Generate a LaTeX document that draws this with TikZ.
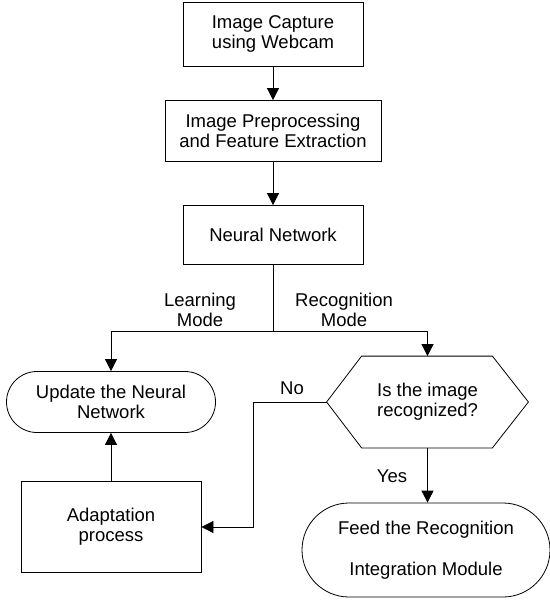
\documentclass[tikz,border=0pt]{standalone}
\usepackage{fontspec}
\setmainfont{Liberation Sans}
\usetikzlibrary{arrows.meta,shapes.misc}

\begin{document}
\begin{tikzpicture}[x=1pt,y=-1pt,line width=0.8pt,
    font=\fontsize{18.5}{20}\selectfont,
    box/.style={draw,rectangle,align=center,inner sep=0pt},
    term/.style={draw,rounded rectangle,align=center,inner sep=0pt},
    arr/.style={-{Triangle[length=12pt,width=12pt]}}]
  \useasboundingbox (0,0) rectangle (549,601);
  % main chain
  \node[box,minimum width=180pt,minimum height=64pt] (cap) at (273,34) {Image Capture\\using Webcam};
  \node[box,minimum width=216pt,minimum height=61pt] (prep) at (273,131) {Image Preprocessing\\and Feature Extraction};
  \node[box,minimum width=180pt,minimum height=59pt] (nn) at (273,235) {Neural Network};
  \coordinate (split) at (273,331);
  % learning side
  \node[term,minimum width=209pt,minimum height=61pt] (upd) at (111,402) {Update the Neural\\Network};
  \node[box,minimum width=180pt,minimum height=91pt] (adapt) at (111,527) {Adaptation\\process};
  % recognition side
  \node[align=center,minimum width=201pt,minimum height=91pt,inner sep=0pt] (chk) at (427.5,402) {Is the image\\recognized?};
  \draw ([xshift=35pt]chk.north west) -- ([xshift=-36pt]chk.north east) -- (chk.east)
    -- ([xshift=-36pt]chk.south east) -- ([xshift=35pt]chk.south west) -- (chk.west) -- cycle;
  \node[term,minimum width=248pt,minimum height=94pt] (feed) at (426,550)
    {Feed the Recognition\\[21pt]Integration Module};
  % labels
  \node[align=center] (lrn) at (200,310) {Learning\\Mode};
  \node[align=center] (rec) at (344,310) {Recognition\\Mode};
  \node (no) at (292,388) {No};
  \node (yes) at (392,476) {Yes};
  % connectors
  \draw[arr] (cap) -- (prep);
  \draw[arr] (prep) -- (nn);
  \draw (nn) -- (split);
  \draw[arr] (split) -| (upd);
  \draw[arr] (split) -| (chk);
  \draw[arr] (chk.south) -- (chk.south |- feed.north);
  \draw[arr] (chk.west) -- ++(-73,0) |- (adapt);
  \draw[arr] (adapt) -- (upd);
\end{tikzpicture}
\end{document}
